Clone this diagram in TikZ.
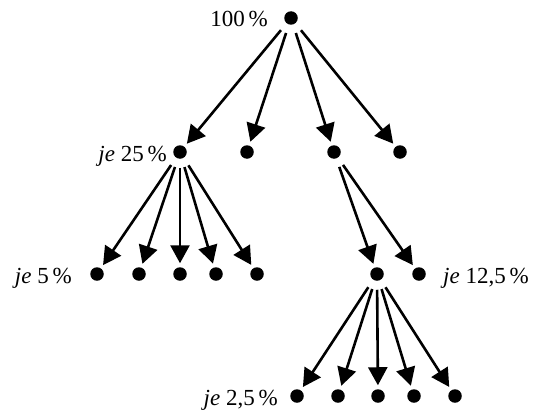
\documentclass[tikz,border=0pt]{standalone}
\usepackage{fontspec}
\setmainfont{Liberation Serif}
\usetikzlibrary{arrows.meta}

\begin{document}
\begin{tikzpicture}[x=1pt,y=-1pt,
  dot/.style={circle,fill=black,inner sep=0pt,outer sep=0pt,minimum size=13.5pt},
  arr/.style={line width=2.6pt,-{Triangle[length=18pt,width=19pt]},
              shorten <=9pt,shorten >=4pt},
  lab/.style={inner sep=0pt,font=\fontsize{23}{27}\selectfont}]
\useasboundingbox (0,0) rectangle (534,412);

% tree nodes
\node[dot] (r) at (291,18) {};
\node[dot] (a1) at (180,152) {};
\node[dot] (a2) at (247,152) {};
\node[dot] (a3) at (334,152) {};
\node[dot] (a4) at (400,152) {};
\node[dot] (b1) at (97,274) {};
\node[dot] (b2) at (139,274) {};
\node[dot] (b3) at (180,274) {};
\node[dot] (b4) at (216,274) {};
\node[dot] (b5) at (257,274) {};
\node[dot] (c1) at (377,274) {};
\node[dot] (c2) at (419,274) {};
\node[dot] (d1) at (297,396) {};
\node[dot] (d2) at (338,396) {};
\node[dot] (d3) at (378,396) {};
\node[dot] (d4) at (414,396) {};
\node[dot] (d5) at (455,396) {};

% share labels
\node[lab,anchor=base east] (l0) at (268,27) {100\,\%};
\node[lab,anchor=base east] (l1) at (167,161) {\textit{je} 25\,\%};
\node[lab,anchor=base east] (l2) at (72,283) {\textit{je} 5\,\%};
\node[lab,anchor=base west] (l3) at (443,283) {\textit{je} 12,5\,\%};
\node[lab,anchor=base east] (l4) at (278,405) {\textit{je} 2,5\,\%};

% connectors
\foreach \t in {a1,a2,a3,a4} \draw[arr] (r) -- (\t);
\foreach \t in {b1,b2,b3,b4,b5} \draw[arr] (a1) -- (\t);
\foreach \t in {c1,c2} \draw[arr] (a3) -- (\t);
\foreach \t in {d1,d2,d3,d4,d5} \draw[arr] (c1) -- (\t);
\end{tikzpicture}
\end{document}
